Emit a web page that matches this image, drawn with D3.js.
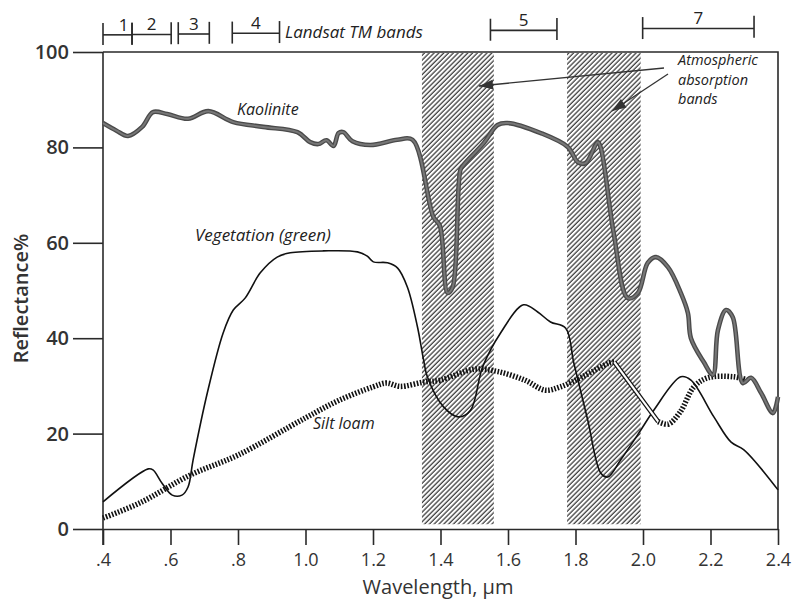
<!DOCTYPE html>
<html><head><meta charset="utf-8">
<script src="https://cdn.jsdelivr.net/npm/d3@7"></script>
<style>body{margin:0;background:#fff}</style>
</head><body><svg id="c" width="803" height="599"></svg>
<script>
// ---------- data ----------
const xTicks = [0.4,0.6,0.8,1.0,1.2,1.4,1.6,1.8,2.0,2.2,2.4];
const xTickLabels = [".4",".6",".8","1.0","1.2","1.4","1.6","1.8","2.0","2.2","2.4"];
const yTicks = [0,20,40,60,80,100];
const absorptionStart = [1.345, 1.775];
const absorptionEnd = [1.558, 1.993];
const tmBandNames = ["1","2","3","4","5","7"];
const tmBandStart = [0.400,0.486,0.623,0.783,1.548,1.999];
const tmBandEnd   = [0.486,0.602,0.715,0.923,1.745,2.329];

const kaolinite = [[0.400,85.1],[0.440,83.5],[0.474,82.4],[0.516,84.3],[0.548,87.4],[0.590,87.0],[0.652,86.0],[0.712,87.6],[0.786,85.3],[0.875,84.3],[0.976,83.2],[1.014,81.1],[1.038,80.7],[1.062,81.5],[1.083,80.3],[1.098,83.0],[1.112,83.2],[1.139,81.3],[1.192,80.5],[1.272,81.6],[1.317,81.6],[1.379,65.4],[1.398,63.6],[1.421,49.5],[1.436,50.7],[1.459,75.3],[1.468,76.3],[1.528,80.9],[1.569,84.7],[1.599,85.1],[1.697,83.0],[1.777,80.1],[1.807,76.9],[1.830,76.7],[1.866,81.1],[1.875,79.9],[1.913,62.1],[1.955,48.4],[1.985,49.5],[2.014,55.8],[2.038,57.0],[2.074,54.9],[2.112,49.5],[2.133,45.3],[2.142,40.0],[2.180,35.0],[2.207,32.3],[2.222,41.7],[2.246,45.9],[2.266,44.4],[2.296,30.6],[2.320,31.7],[2.350,28.5],[2.385,24.3],[2.400,27.7]];

const vegetation = [[0.400,5.7],[0.534,12.6],[0.548,12.4],[0.575,9.6],[0.605,7.1],[0.634,7.1],[0.652,8.8],[0.667,14.5],[0.709,28.5],[0.756,41.1],[0.786,45.9],[0.821,48.4],[0.866,53.7],[0.916,57.0],[0.955,57.9],[1.053,58.3],[1.154,58.1],[1.183,57.2],[1.201,56.0],[1.243,55.8],[1.273,54.7],[1.302,50.7],[1.332,42.3],[1.350,35.4],[1.361,31.9],[1.409,25.6],[1.453,23.5],[1.489,24.9],[1.525,34.0],[1.578,41.1],[1.646,47.0],[1.688,45.5],[1.726,43.4],[1.771,42.1],[1.795,34.8],[1.836,22.9],[1.875,11.7],[1.896,10.9],[1.934,14.5],[1.994,20.8],[2.032,24.9],[2.112,31.9],[2.142,31.2],[2.210,23.5],[2.261,18.2],[2.299,16.6],[2.400,8.2]];

const siltLoam = [[0.400,2.3],[0.510,5.5],[0.658,11.3],[0.800,15.5],[1.000,23.3],[1.100,27.0],[1.200,29.8],[1.240,30.6],[1.280,29.9],[1.350,30.8],[1.400,31.2],[1.500,33.5],[1.570,33.0],[1.650,31.2],[1.710,29.1],[1.755,29.8],[1.820,31.9],[1.900,34.8],[1.915,35.0]];
const siltLoamGap = [[1.915,35.0],[2.045,22.5]];
const siltLoamEnd = [[2.045,22.5],[2.075,22.0],[2.110,24.5],[2.151,29.8],[2.192,31.7],[2.269,31.9],[2.311,31.2]];

// ---------- chart ----------
const svg = d3.select("#c");
const x = d3.scaleLinear().domain([0.4,2.4]).range([103,778]);
const y = d3.scaleLinear().domain([0,100]).range([529,52]);
const ink = "#2a2a2a";

const defs = svg.append("defs");
defs.append("pattern").attr("id","hatch").attr("patternUnits","userSpaceOnUse")
  .attr("width",3.4).attr("height",3.4).attr("patternTransform","rotate(45)")
  .append("line").attr("x1",1).attr("y1",0).attr("x2",1).attr("y2",3.4)
  .attr("stroke","#111").attr("stroke-width",1.05);

// absorption bands
svg.append("g").selectAll("rect").data(absorptionStart).join("rect")
  .attr("x",(d)=>x(d)).attr("width",(d,i)=>x(absorptionEnd[i])-x(d))
  .attr("y",y(100)+1).attr("height",y(1.0)-y(100)-1)
  .attr("fill","url(#hatch)");

// frame
svg.append("path").attr("d",`M${x(0.4)},${y(100)}H${x(2.4)}V${y(0)}`)
  .attr("fill","none").attr("stroke",ink).attr("stroke-width",1.6);

// axes
const fontAxis = "'Open Sans', sans-serif";
const gx = svg.append("g").attr("transform",`translate(0,${y(0)})`)
  .call(d3.axisBottom(x).tickValues(xTicks).tickFormat((d,i)=>xTickLabels[i]).tickSize(16).tickPadding(8).tickSizeOuter(0));
gx.selectAll("text").attr("font-family",fontAxis).attr("font-size",18).attr("fill","#333");
const gy = svg.append("g").attr("transform",`translate(${x(0.4)},0)`)
  .call(d3.axisLeft(y).tickValues(yTicks).tickSize(30).tickPadding(4).tickSizeOuter(0));
gy.selectAll("text").attr("font-family",fontAxis).attr("font-size",20).attr("font-weight",600).attr("fill","#333");
svg.selectAll(".domain, .tick line").attr("stroke",ink).attr("stroke-width",1.6);
gy.select(".domain").attr("d",`M0,${y(100)}V${y(0)+16}`);

svg.append("text").attr("transform",`translate(28,${(y(0)+y(100))/2+8}) rotate(-90)`)
  .attr("text-anchor","middle").attr("font-family",fontAxis).attr("font-size",20).attr("font-weight",600)
  .attr("fill","#333").text("Reflectance%");
svg.append("text").attr("x",438).attr("y",594).attr("text-anchor","middle")
  .attr("font-family",fontAxis).attr("font-size",20).attr("fill","#333").text("Wavelength, \u03bcm");

// curves
const line = d3.line().x(d=>x(d[0])).y(d=>y(d[1])).curve(d3.curveCatmullRom.alpha(0.5));
const lineStraight = d3.line().x(d=>x(d[0])).y(d=>y(d[1]));

svg.append("path").attr("d",line(vegetation)).attr("fill","none").attr("stroke","#111").attr("stroke-width",1.6);

[siltLoam, siltLoamEnd].forEach(s=>{
  svg.append("path").attr("d",line(s)).attr("fill","none").attr("stroke","#111")
    .attr("stroke-width",5.5).attr("stroke-dasharray","1.6,1.6");
});
svg.append("path").attr("d",lineStraight(siltLoamGap)).attr("fill","none").attr("stroke","#111").attr("stroke-width",4.6);
svg.append("path").attr("d",lineStraight(siltLoamGap)).attr("fill","none").attr("stroke","#fff").attr("stroke-width",2.2);

svg.append("path").attr("d",line(kaolinite)).attr("fill","none").attr("stroke","#4a4a4a")
  .attr("stroke-width",4.6).attr("stroke-linejoin","round");
svg.append("path").attr("d",line(kaolinite)).attr("fill","none").attr("stroke","#777")
  .attr("stroke-width",2).attr("stroke-linejoin","round");

// curve labels
const fontItal = "'Open Sans', sans-serif";
function lab(t,xx,yy,fs){
  svg.append("text").attr("x",xx).attr("y",yy).attr("font-family",fontItal).attr("font-style","italic")
    .attr("font-size",fs).attr("fill","#222").text(t);
}
lab("Kaolinite",237,115,16);
lab("Vegetation (green)",195,241,17);
lab("Silt loam",313,429,16);
lab("Landsat TM bands",285,38,17);
lab("Atmospheric",678,65,14.5);
lab("absorption",678,84.5,14.5);
lab("bands",678,104,14.5);

// TM band brackets
const bracketY = px => 35 - (px-103)*0.011;
const gb = svg.append("g").attr("stroke",ink).attr("stroke-width",1.6);
tmBandStart.forEach((s,i)=>{
  const x0=x(s), x1=x(tmBandEnd[i]);
  const ly=bracketY((x0+x1)/2);
  gb.append("line").attr("x1",x0).attr("x2",x1).attr("y1",ly).attr("y2",ly);
  gb.append("line").attr("x1",x0).attr("x2",x0).attr("y1",bracketY(x0)-12).attr("y2",bracketY(x0)+10);
  gb.append("line").attr("x1",x1).attr("x2",x1).attr("y1",bracketY(x1)-12).attr("y2",bracketY(x1)+10);
  svg.append("text").attr("x",(x0+x1)/2+(i===0?6:0)).attr("y",ly-4).attr("text-anchor","middle")
    .attr("font-family",fontAxis).attr("font-size",17).attr("fill","#222").text(tmBandNames[i]);
});

// arrows
function arrow(x0,y0,x1,y1){
  svg.append("line").attr("x1",x0).attr("y1",y0).attr("x2",x1).attr("y2",y1)
    .attr("stroke","#333").attr("stroke-width",1.3);
  const a=Math.atan2(y1-y0,x1-x0), L=14, W=5;
  const bx=x1-L*Math.cos(a), by=y1-L*Math.sin(a);
  const px=-Math.sin(a)*W, py=Math.cos(a)*W;
  svg.append("path").attr("d",`M${x1},${y1}L${bx+px},${by+py}L${bx-px},${by-py}Z`).attr("fill","#333");
}
arrow(664,68,479,86);
arrow(668,74,612,111);
</script></body></html>
